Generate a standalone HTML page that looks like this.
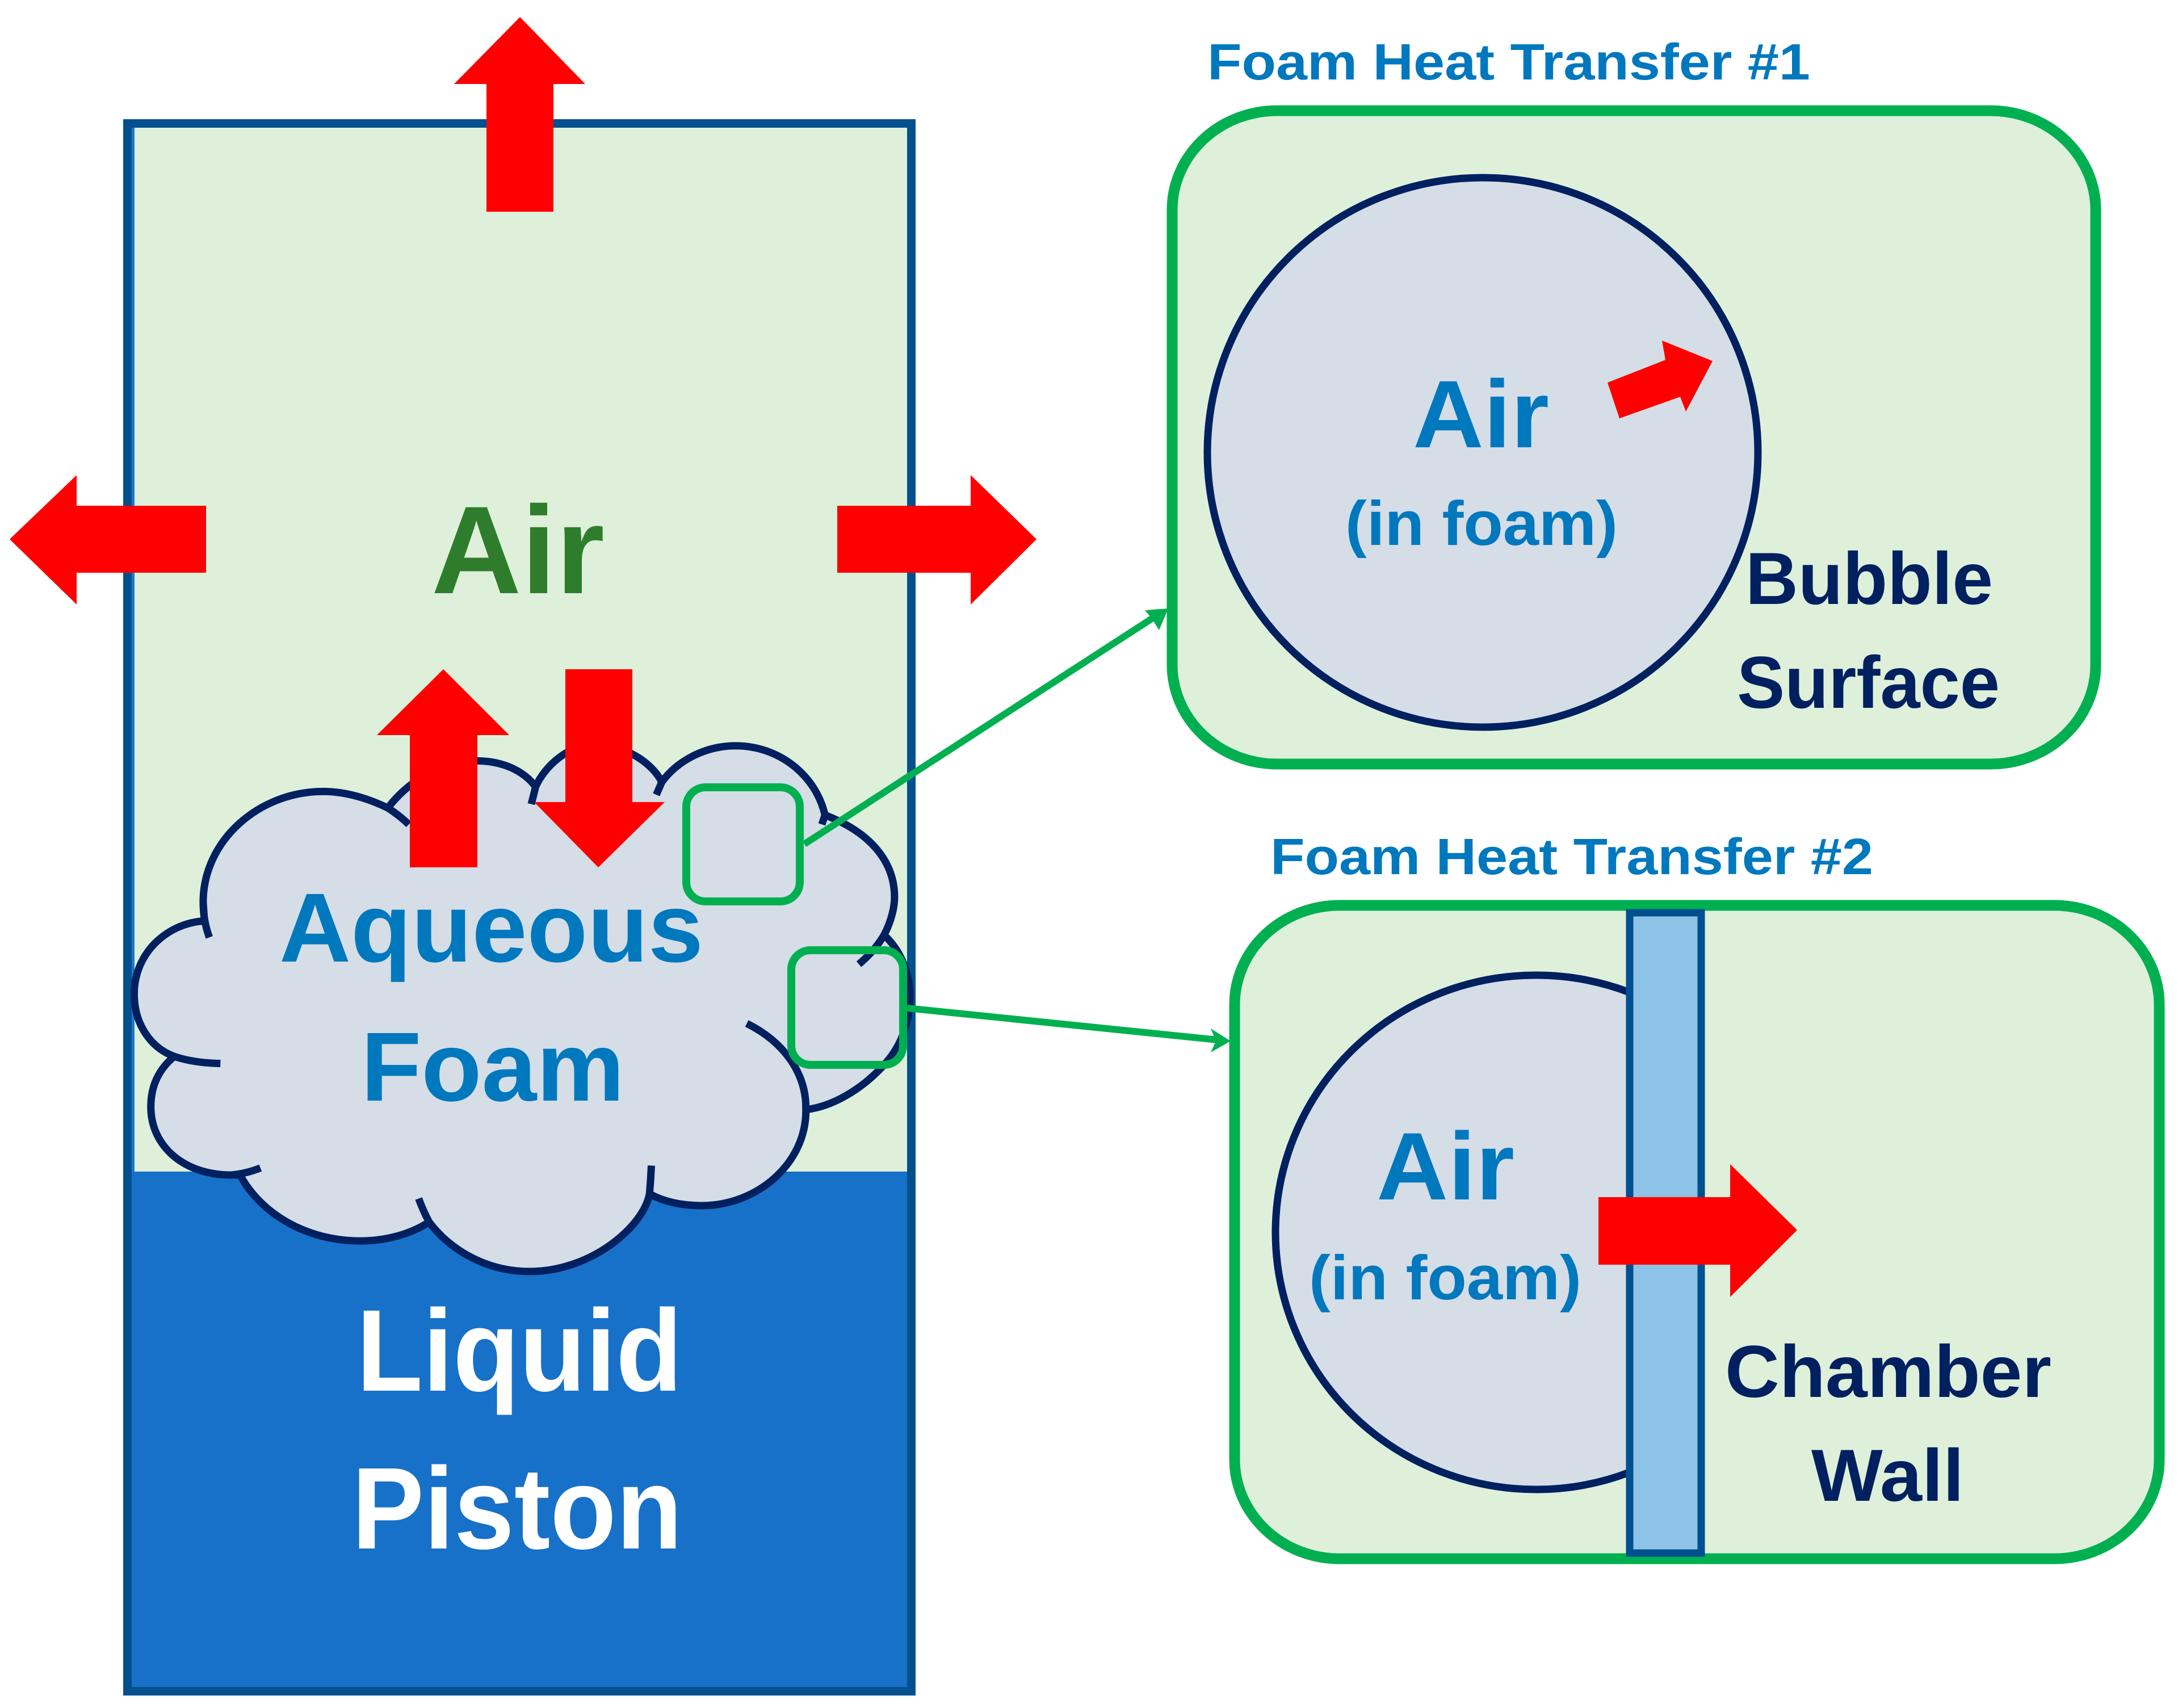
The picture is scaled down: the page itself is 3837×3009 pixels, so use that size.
<!DOCTYPE html>
<html>
<head>
<meta charset="utf-8">
<style>
html,body{margin:0;padding:0;background:#fff;width:3837px;height:3009px;overflow:hidden}
svg{display:block}
text{font-family:"Liberation Sans",sans-serif;font-weight:bold}
</style>
</head>
<body>
<svg xmlns="http://www.w3.org/2000/svg" width="3837" height="3009" viewBox="0 0 3837 3009">
<defs>
<clipPath id="wallclip"><rect x="2200" y="1650" width="670" height="1050"/></clipPath>
</defs>
<rect width="3837" height="3009" fill="#fff"/>

<!-- Main chamber -->
<rect x="232" y="217" width="1369" height="1848" fill="#DEF0DA"/>
<rect x="232" y="217" width="5" height="1848" fill="#1F77CC"/>
<rect x="232" y="2064" width="1369" height="915" fill="#1771C8"/>
<rect x="224.5" y="217.5" width="1381" height="2762" fill="none" stroke="#04508F" stroke-width="15"/>

<!-- Cloud -->
<g transform="translate(0,1100) scale(1.0846,0.8291)">
<path vector-effect="non-scaling-stroke" d="M332,630 C270,635 218,700 218,785 C218,850 245,900 283,918 C258,945 245,980 245,1025 C245,1110 300,1170 375,1170 L390,1170 C425,1255 500,1310 585,1310 C625,1310 665,1297 697,1270 C735,1335 795,1375 860,1375 C960,1375 1045,1280 1055,1210 C1080,1228 1110,1235 1140,1235 C1230,1235 1310,1145 1309,1031 C1350,1025 1400,990 1440,930 C1470,885 1478,830 1478,790 C1478,745 1465,695 1436,660 C1448,630 1453,600 1453,580 C1453,500 1410,440 1340,405 C1325,320 1265,258 1195,258 C1145,258 1100,290 1075,335 C1060,295 1015,255 965,255 C925,255 885,300 870,345 C850,310 815,290 775,290 C720,290 665,330 630,390 C590,365 555,355 525,355 C420,355 330,460 330,590 Z" fill="#D5DDE6" stroke="#002060" stroke-width="13"/>
<g fill="none" stroke="#002060" stroke-width="13">
<path vector-effect="non-scaling-stroke" d="M330,590 C330,615 333,640 340,665"/>
<path vector-effect="non-scaling-stroke" d="M283,918 Q315,932 358,933"/>
<path vector-effect="non-scaling-stroke" d="M375,1170 Q400,1167 423,1155"/>
<path vector-effect="non-scaling-stroke" d="M680,1220 Q687,1245 697,1270"/>
<path vector-effect="non-scaling-stroke" d="M1058,1150 Q1057,1180 1055,1210"/>
<path vector-effect="non-scaling-stroke" d="M1309,1031 C1310,950 1270,885 1213,848"/>
<path vector-effect="non-scaling-stroke" d="M1436,660 Q1420,695 1395,722"/>
<path vector-effect="non-scaling-stroke" d="M1075,335 L1066,362"/>
<path vector-effect="non-scaling-stroke" d="M870,345 L863,382"/>
<path vector-effect="non-scaling-stroke" d="M630,390 Q648,405 664,425"/>
<path vector-effect="non-scaling-stroke" d="M1340,405 L1335,425"/>
</g>
</g>

<!-- Red arrows, chamber -->
<g fill="#FF0000">
<polygon points="916,30 1031,148 975,148 975,373 857,373 857,148 800,148"/>
<polygon points="17,950 135,837 135,891 363,891 363,1009 135,1009 135,1065"/>
<polygon points="1826,950 1710,837 1710,891 1475,891 1475,1009 1710,1009 1710,1065"/>
<polygon points="781,1179 897,1295 841,1295 841,1528 722,1528 722,1295 664,1295"/>
<polygon points="1054,1528 1171,1413 1114,1413 1114,1179 996,1179 996,1413 941,1413"/>
</g>

<text x="760" y="1045" font-size="220" fill="#2E7D2C" textLength="305" lengthAdjust="spacingAndGlyphs">Air</text>
<text x="492" y="1694" font-size="173" fill="#0078BE" textLength="747" lengthAdjust="spacingAndGlyphs">Aqueous</text>
<text x="636" y="1939" font-size="173" fill="#0078BE" textLength="464" lengthAdjust="spacingAndGlyphs">Foam</text>
<text x="628" y="2450" font-size="205" fill="#fff" textLength="574" lengthAdjust="spacingAndGlyphs">Liquid</text>
<text x="620" y="2728" font-size="205" fill="#fff" textLength="582" lengthAdjust="spacingAndGlyphs">Piston</text>

<!-- Panel 1 -->
<text x="2127" y="140" font-size="90" fill="#0078BE" textLength="1062" lengthAdjust="spacingAndGlyphs">Foam Heat Transfer #1</text>
<rect x="2065" y="195" width="1627" height="1151" rx="185" ry="175" fill="#DEF0DA" stroke="#00B050" stroke-width="19"/>
<ellipse cx="2612" cy="797" rx="485" ry="484" fill="#D5DDE6" stroke="#002060" stroke-width="13"/>
<polygon points="3017,636 2928,600 2934,634 2832,674 2853,737 2960,699 2970,725" fill="#FF0000"/>
<text x="2489" y="788" font-size="169" fill="#0078BE" textLength="240" lengthAdjust="spacingAndGlyphs">Air</text>
<text x="2370" y="960" font-size="110" fill="#0078BE" textLength="480" lengthAdjust="spacingAndGlyphs">(in foam)</text>
<text x="3075" y="1064" font-size="130" fill="#002060" textLength="436" lengthAdjust="spacingAndGlyphs">Bubble</text>
<text x="3060" y="1247" font-size="130" fill="#002060" textLength="463" lengthAdjust="spacingAndGlyphs">Surface</text>

<!-- Panel 2 -->
<text x="2238" y="1540" font-size="90" fill="#0078BE" textLength="1062" lengthAdjust="spacingAndGlyphs">Foam Heat Transfer #2</text>
<rect x="2175" y="1595" width="1629" height="1151" rx="185" ry="175" fill="#DEF0DA" stroke="#00B050" stroke-width="19"/>
<g clip-path="url(#wallclip)">
<ellipse cx="2706" cy="2171" rx="459" ry="453" fill="#D5DDE6" stroke="#002060" stroke-width="13"/>
</g>
<rect x="2871" y="1608" width="126" height="1128" fill="#8DC3E6" stroke="#00508F" stroke-width="13"/>
<polygon points="3166,2167 3048,2051 3048,2109 2816,2109 2816,2228 3048,2228 3048,2285" fill="#FF0000"/>
<text x="2425" y="2113" font-size="169" fill="#0078BE" textLength="243" lengthAdjust="spacingAndGlyphs">Air</text>
<text x="2306" y="2289" font-size="110" fill="#0078BE" textLength="480" lengthAdjust="spacingAndGlyphs">(in foam)</text>
<text x="3039" y="2461" font-size="130" fill="#002060" textLength="575" lengthAdjust="spacingAndGlyphs">Chamber</text>
<text x="3191" y="2644" font-size="130" fill="#002060" textLength="269" lengthAdjust="spacingAndGlyphs">Wall</text>

<!-- Connectors and callout squares -->
<g fill="none" stroke="#00B050" stroke-width="14">
<rect x="1209" y="1387" width="200" height="201" rx="34" ry="34"/>
<rect x="1394" y="1674" width="197" height="202" rx="34" ry="34"/>
</g>
<g stroke="#00B050" stroke-width="12" fill="none">
<line x1="1417" y1="1487" x2="2035" y2="1086"/>
<line x1="1598" y1="1776" x2="2145" y2="1832"/>
</g>
<polygon points="2058,1072 2017,1075 2027,1087 2042,1110" fill="#00B050"/>
<polygon points="2168,1834 2133,1812 2142,1834 2133,1854" fill="#00B050"/>
</svg>
</body>
</html>
